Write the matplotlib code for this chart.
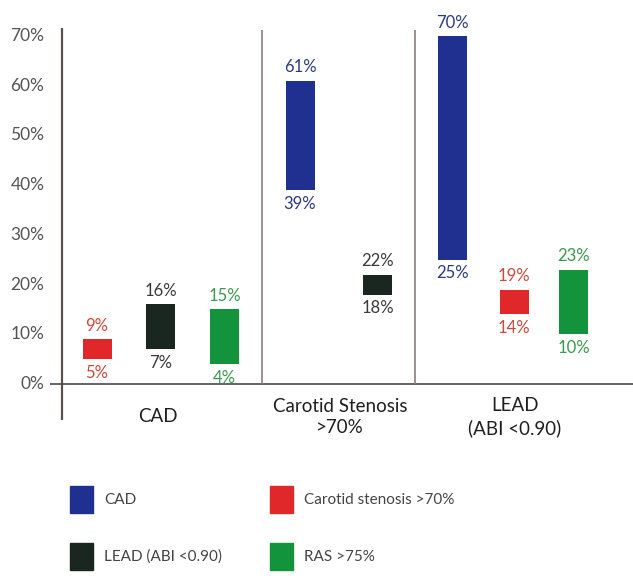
import matplotlib
matplotlib.use("Agg")
import matplotlib.pyplot as plt
from matplotlib.patches import Rectangle

plt.rcParams['font.family'] = ['Lato', 'DejaVu Sans']

# ---- data ----
groups = ["CAD", "Carotid Stenosis\n>70%", "LEAD\n(ABI <0.90)"]
series = ["CAD", "Carotid stenosis >70%", "LEAD (ABI <0.90)", "RAS >75%"]
# low / high prevalence (%) per group, per series (None = not shown)
low = {
    "CAD":                   [None, 39, 25],
    "Carotid stenosis >70%": [5, None, 14],
    "LEAD (ABI <0.90)":      [7, 18, None],
    "RAS >75%":              [4, None, 10],
}
high = {
    "CAD":                   [None, 61, 70],
    "Carotid stenosis >70%": [9, None, 19],
    "LEAD (ABI <0.90)":      [16, 22, None],
    "RAS >75%":              [15, None, 23],
}
yticks = [0, 10, 20, 30, 40, 50, 60, 70]
ytick_labels = ["0%", "10%", "20%", "30%", "40%", "50%", "60%", "70%"]

# ---- styling / layout ----
bar_color = {
    "CAD": "#1f3091",
    "Carotid stenosis >70%": "#e0282a",
    "LEAD (ABI <0.90)": "#1a2620",
    "RAS >75%": "#14933d",
}
label_color = {
    "CAD": "#2c3a7e",
    "Carotid stenosis >70%": "#c84a3c",
    "LEAD (ABI <0.90)": "#3a3a3a",
    "RAS >75%": "#3a9a4c",
}
# x centre of each bar (axis units ~ pixels)
xpos = {
    "CAD":                   [None, 300, 452.5],
    "Carotid stenosis >70%": [97, None, 514],
    "LEAD (ABI <0.90)":      [160.5, 377.5, None],
    "RAS >75%":              [224.5, None, 573.5],
}
group_x = [158, 340, 515]
separators = [262, 415]
bar_w = 29

W, H = 633, 576
fig = plt.figure(figsize=(W / 100, H / 100), dpi=100)
fig.patch.set_facecolor("white")

ax_left, ax_right = 50, 633
pix_per = 4.97
y0_pix = 384
bot_pix, top_pix = 420, 28
ymin = -(bot_pix - y0_pix) / pix_per
ymax = (y0_pix - top_pix) / pix_per
ax = fig.add_axes([ax_left / W, 1 - bot_pix / H, (ax_right - ax_left) / W, (bot_pix - top_pix) / H])
ax.set_xlim(ax_left, ax_right)
ax.set_ylim(ymin, ymax)
for s in ax.spines.values():
    s.set_visible(False)
ax.set_xticks([])
ax.set_yticks(yticks)
ax.set_yticklabels(ytick_labels, fontsize=12.5, color="#555555")
ax.tick_params(axis="y", length=0, pad=4)
for t in ax.get_yticklabels():
    t.set_y(t.get_position()[1])
    t.set_va("center")

# axis lines
ax.axvline(62, color="#5e504d", lw=1.6)
ax.axhline(0, color="#4a4a4a", lw=1.2)
for sx in separators:
    ax.vlines(sx, 0, ymax - 0.4, color="#8a7f7c", lw=1.2)

# bars
for s in series:
    for gi in range(len(groups)):
        lo, hi, xc = low[s][gi], high[s][gi], xpos[s][gi]
        if lo is None:
            continue
        ax.bar(xc, hi - lo, bottom=lo, width=bar_w, color=bar_color[s], edgecolor="none")
        ax.annotate(f"{hi}%", (xc, hi), xytext=(0, 4), textcoords="offset points",
                    ha="center", va="bottom", fontsize=12, color=label_color[s])
        ax.annotate(f"{lo}%", (xc, lo), xytext=(0, -4), textcoords="offset points",
                    ha="center", va="top", fontsize=12, color=label_color[s])

# group labels
label_y = -(417 - y0_pix) / pix_per
for gx, g in zip(group_x, groups):
    ax.text(gx, label_y, g, ha="center", va="center", fontsize=13.5, color="#1f1f1f",
            linespacing=1.35, clip_on=False)

# legend (manual)
leg_items = [
    ("CAD", 70, 486),
    ("Carotid stenosis >70%", 270, 486),
    ("LEAD (ABI <0.90)", 70, 543),
    ("RAS >75%", 270, 543),
]
for name, lx, ly in leg_items:
    fig.add_artist(Rectangle((lx / W, 1 - (ly + 27) / H), 23 / W, 27 / H,
                             transform=fig.transFigure, color=bar_color[name]))
    fig.text((lx + 34) / W, 1 - (ly + 14) / H, name, ha="left", va="center",
             fontsize=11, color="#444444")

fig.savefig("out.png", dpi=100, facecolor="white")
